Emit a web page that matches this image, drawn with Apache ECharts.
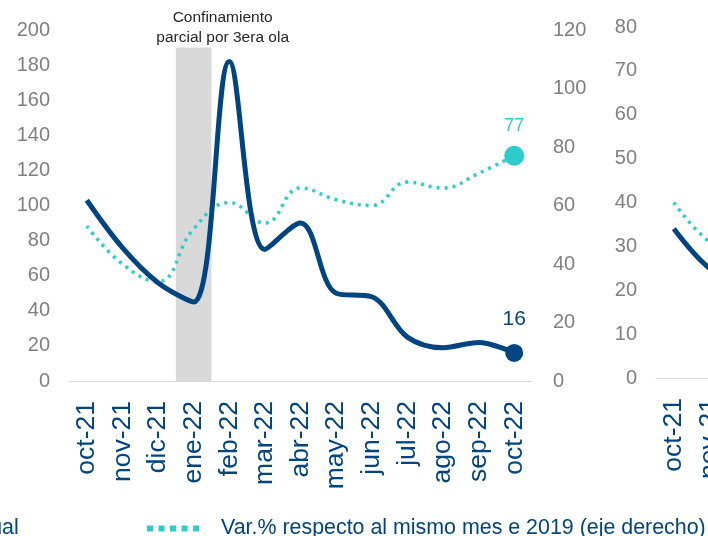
<!DOCTYPE html>
<html lang="es">
<head>
    <meta charset="UTF-8">
    <title>llegadas</title>
    <style>
        html, body { margin: 0; padding: 0; background: #fff; }
        #chart { width: 708px; height: 536px; }
    </style>
</head>
<body>
<div id="chart"></div>
<script src="https://cdn.jsdelivr.net/npm/echarts@6/dist/echarts.min.js"></script>
<script>
    // meses del eje x
    const months = ['oct-21', 'nov-21', 'dic-21', 'ene-22', 'feb-22', 'mar-22', 'abr-22',
        'may-22', 'jun-22', 'jul-22', 'ago-22', 'sep-22', 'oct-22'];
    // serie principal (eje izquierdo)
    const anual = [103, 76, 56, 45, 182, 75, 90, 50, 48, 25, 19, 22, 16];
    // var.% vs 2019 (eje derecho)
    const vs2019 = [53, 40, 34, 52, 61, 54, 66, 62, 60, 68, 66, 71, 77];
    // barra gris del confinamiento
    const shadeMonth = 'ene-22';
    const shadeTop = 190;
    const shadeText = 'Confinamiento\nparcial por 3era ola';
    // segundo grafico (cortado a la derecha)
    const secondSolid = [34, 25, 21];
    const secondDotted = [40, 31, 27];

    const navy = '#004481';
    const aqua = '#2dcccd';
    const gray = '#808080';
    const font = 'Liberation Sans, Arial, sans-serif';

    const names = ['Var.% anual', 'Var.% respecto al mismo mes e 2019 (eje derecho)'];

    function lastPoint(arr, size, fontSize, color, dist) {
        return arr.map(function (v, i) {
            if (i < arr.length - 1) return v;
            return {
                value: v, symbolSize: size,
                label: {show: true, position: 'top', distance: dist, fontSize: fontSize, color: color}
            };
        });
    }

    const yLabel = {color: gray, fontSize: 20, fontFamily: font};
    const xLabel = {rotate: 90, fontSize: 26.5, color: navy, fontFamily: font, margin: 20, interval: 0};
    const legendText = {color: navy, fontSize: 21.4, fontFamily: font};

    const chart = echarts.init(document.getElementById('chart'));
    chart.setOption({
        animation: false,
        textStyle: {fontFamily: font},
        grid: [
            {left: 69, width: 463, top: 30, height: 351, outerBoundsMode: 'none'},
            {left: 656, width: 463, top: 27, height: 351, outerBoundsMode: 'none'}
        ],
        legend: [
            {
                left: -157, top: 513, itemWidth: 52, itemHeight: 6, textStyle: legendText,
                data: [{name: names[0], icon: 'rect'}]
            },
            {
                left: 142, top: 513, itemWidth: 52, itemHeight: 6,
                textStyle: Object.assign({padding: [0, 0, 0, 17]}, legendText),
                data: [{
                    name: names[1],
                    icon: 'path://M0,0h6v6h-6zM11.5,0h6v6h-6zM23,0h6v6h-6zM34.5,0h6v6h-6zM46,0h6v6h-6z'
                }]
            }
        ],
        xAxis: [
            {
                type: 'category', gridIndex: 0, data: months,
                axisLine: {lineStyle: {color: '#d9d9d9'}}, axisTick: {show: false}, axisLabel: xLabel
            },
            {
                type: 'category', gridIndex: 1, data: months,
                axisLine: {lineStyle: {color: '#d9d9d9'}}, axisTick: {show: false}, axisLabel: xLabel
            }
        ],
        yAxis: [
            {
                type: 'value', gridIndex: 0, min: 0, max: 200, interval: 20,
                splitLine: {show: false}, axisLabel: Object.assign({margin: 19}, yLabel)
            },
            {
                type: 'value', gridIndex: 0, position: 'right', min: 0, max: 120, interval: 20,
                splitLine: {show: false}, axisLabel: Object.assign({margin: 21}, yLabel)
            },
            {
                type: 'value', gridIndex: 1, min: 0, max: 80, interval: 10,
                splitLine: {show: false}, axisLabel: Object.assign({margin: 19}, yLabel)
            },
            {
                type: 'value', gridIndex: 1, position: 'right', min: 0, max: 80, show: false
            }
        ],
        series: [
            {
                name: 'confinamiento', type: 'bar', xAxisIndex: 0, yAxisIndex: 0,
                barWidth: '100%', z: 1, silent: true,
                itemStyle: {color: '#d9d9d9'},
                data: months.map(function (m) {
                    if (m !== shadeMonth) return null;
                    return {
                        value: shadeTop,
                        label: {
                            show: true, position: 'top', distance: 0, offset: [29, 0],
                            formatter: shadeText, fontSize: 15.5, lineHeight: 20, color: '#262626'
                        }
                    };
                })
            },
            {
                name: names[0], type: 'line', xAxisIndex: 0, yAxisIndex: 0, z: 3,
                smooth: 0.35, symbol: 'circle', symbolSize: 0, color: navy,
                lineStyle: {width: 5, color: navy},
                data: lastPoint(anual, 18, 21, navy, 14)
            },
            {
                name: names[1], type: 'line', xAxisIndex: 0, yAxisIndex: 1, z: 2,
                smooth: 0.45, symbol: 'circle', symbolSize: 0, color: aqua,
                lineStyle: {width: 3.5, color: aqua, type: [3, 5]},
                data: lastPoint(vs2019, 20, 18, aqua, 11)
            },
            {
                name: 'b1', type: 'line', xAxisIndex: 1, yAxisIndex: 2, z: 3,
                smooth: 0.35, symbol: 'none', lineStyle: {width: 5, color: navy},
                data: secondSolid
            },
            {
                name: 'b2', type: 'line', xAxisIndex: 1, yAxisIndex: 3, z: 2,
                smooth: 0.45, symbol: 'none', lineStyle: {width: 3.5, color: aqua, type: [3, 5]},
                data: secondDotted
            }
        ]
    });
</script>
</body>
</html>
